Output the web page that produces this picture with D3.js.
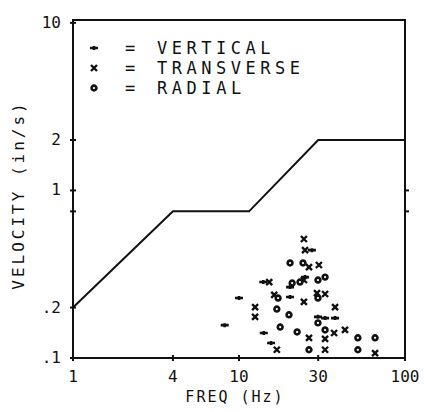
<!DOCTYPE html>
<html>
<head>
<meta charset="utf-8">
<script src="https://cdn.jsdelivr.net/npm/d3@7"></script>
<style>
  body { margin: 0; background: #fff; }
  text { font-family: "DejaVu Sans Mono", monospace; fill: #111; }
</style>
</head>
<body>
<script>
// criterion line (freq Hz, velocity)
const limitFreq = [1, 4, 11.5, 30, 100];
const limitVel = [0.2, 0.75, 0.75, 2, 2];

// measured peaks
const vertFreq = [10, 8.2, 14.1, 15.6, 20.3, 25, 27.5, 29.9, 33, 37.9, 14, 20.3];
const vertVel = [0.228, 0.157, 0.141, 0.123, 0.231, 0.304, 0.44, 0.176, 0.173, 0.173, 0.284, 0.265];

const transFreq = [12.5, 12.5, 16.9, 24.6, 25, 26.4, 30.3, 24.6, 16.3, 24.6, 26.4, 29.5, 33, 37.9, 37.4, 33, 33, 43.5, 66, 15.2];
const transVel = [0.201, 0.176, 0.112, 0.513, 0.44, 0.349, 0.359, 0.292, 0.238, 0.216, 0.132, 0.244, 0.241, 0.201, 0.141, 0.13, 0.112, 0.147, 0.107, 0.284];

const radFreq = [20.3, 24.3, 20.9, 17.2, 16.9, 20, 17.7, 22.4, 26.4, 29.9, 29.9, 33, 33, 52, 52, 66, 23.3, 29.9];
const radVel = [0.369, 0.369, 0.28, 0.228, 0.196, 0.181, 0.153, 0.143, 0.112, 0.228, 0.162, 0.147, 0.304, 0.132, 0.112, 0.132, 0.284, 0.292];

const xTicks = [1, 4, 10, 30, 100];
const xTickLabels = ['1', '4', '10', '30', '100'];
const yTicks = [0.1, 0.2, 1, 2, 10];
const yTickLabels = ['.1', '.2', '1', '2', '10'];
const yExtraTicks = [0.75];

const legendSymbols = ['plus', 'cross', 'circle'];
const legendNames = ['VERTICAL', 'TRANSVERSE', 'RADIAL'];

const W = 424, H = 412;
const m = { left: 73, right: 405, top: 20, bottom: 358 };

const svg = d3.select('body').append('svg')
  .attr('width', W)
  .attr('height', H);

const x = d3.scaleLog().domain([1, 100]).range([m.left, m.right]);
const y = d3.scaleLog().domain([0.1, 10.4]).range([m.bottom, m.top]);

// frame
svg.append('rect')
  .attr('x', m.left).attr('y', m.top)
  .attr('width', m.right - m.left).attr('height', m.bottom - m.top)
  .attr('fill', 'none').attr('stroke', '#111').attr('stroke-width', 2);

// ticks (short, crossing the frame)
svg.append('g').selectAll('line').data(yTicks.concat(yExtraTicks)).join('line')
  .attr('x1', m.left - 3).attr('x2', m.left + 3)
  .attr('y1', d => y(d)).attr('y2', d => y(d))
  .attr('stroke', '#111').attr('stroke-width', 2);
svg.append('g').selectAll('line').data([1, 0.75]).join('line')
  .attr('x1', m.right).attr('x2', m.right + 4)
  .attr('y1', d => y(d)).attr('y2', d => y(d))
  .attr('stroke', '#111').attr('stroke-width', 2);
svg.append('g').selectAll('line').data(xTicks).join('line')
  .attr('x1', d => x(d)).attr('x2', d => x(d))
  .attr('y1', m.bottom - 3).attr('y2', m.bottom + 3)
  .attr('stroke', '#111').attr('stroke-width', 2);

// tick labels
svg.append('g').selectAll('text').data(yTicks).join('text')
  .attr('x', m.left - 12)
  .attr('y', d => y(d) + 5)
  .attr('text-anchor', 'end')
  .attr('font-size', 16)
  .text((d, i) => yTickLabels[i]);

svg.append('g').selectAll('text').data(xTicks).join('text')
  .attr('x', d => x(d))
  .attr('y', m.bottom + 24)
  .attr('text-anchor', 'middle')
  .attr('font-size', 16)
  .text((d, i) => xTickLabels[i]);

// axis titles
svg.append('text')
  .attr('x', 235).attr('y', 402)
  .attr('text-anchor', 'middle')
  .attr('font-size', 15)
  .attr('letter-spacing', 2)
  .text('FREQ (Hz)');

svg.append('text')
  .attr('transform', 'translate(24,195) rotate(-90)')
  .attr('text-anchor', 'middle')
  .attr('font-size', 16)
  .attr('letter-spacing', 3)
  .text('VELOCITY (in/s)');

// criterion line
const line = d3.line()
  .x(d => x(d[0]))
  .y(d => y(d[1]));

svg.append('path')
  .datum(d3.zip(limitFreq, limitVel))
  .attr('fill', 'none')
  .attr('stroke', '#111')
  .attr('stroke-width', 2)
  .attr('d', line);

// markers
function marker(g, kind) {
  if (kind === 'plus') {
    g.append('path').attr('d', 'M-4,0H4M0,-2V2')
      .attr('stroke', '#111').attr('stroke-width', 2.6).attr('fill', 'none');
  } else if (kind === 'cross') {
    g.append('path').attr('d', 'M-3,-3L3,3M3,-3L-3,3')
      .attr('stroke', '#111').attr('stroke-width', 2.4).attr('fill', 'none');
  } else {
    g.append('circle').attr('r', 2.4)
      .attr('stroke', '#111').attr('stroke-width', 2.6).attr('fill', '#fff');
  }
}

const series = [
  { kind: 'plus', f: vertFreq, v: vertVel },
  { kind: 'cross', f: transFreq, v: transVel },
  { kind: 'circle', f: radFreq, v: radVel }
];

series.forEach(s => {
  svg.append('g').selectAll('g').data(d3.zip(s.f, s.v)).join('g')
    .attr('transform', d => `translate(${x(d[0])},${y(d[1])})`)
    .each(function () { marker(d3.select(this), s.kind); });
});

// legend
const leg = svg.append('g');
legendNames.forEach((name, i) => {
  const yy = 48 + i * 20;
  marker(leg.append('g').attr('transform', `translate(94,${yy})`), legendSymbols[i]);
  leg.append('text').attr('x', 130).attr('y', yy + 6)
    .attr('text-anchor', 'middle').attr('font-size', 17).text('=');
  leg.append('text').attr('x', 157).attr('y', yy + 6)
    .attr('font-size', 17)
    .attr('textLength', name.length * 14.7 - 4)
    .attr('lengthAdjust', 'spacing')
    .text(name);
});
</script>
</body>
</html>
